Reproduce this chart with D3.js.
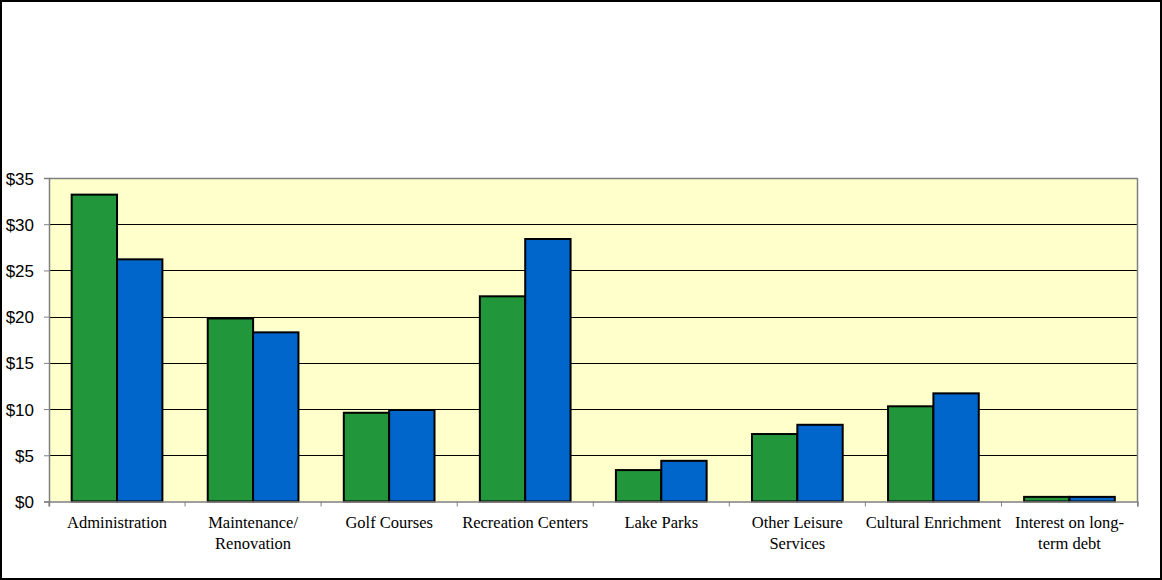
<!DOCTYPE html>
<html><head><meta charset="utf-8">
<script src="https://cdn.jsdelivr.net/npm/d3@7"></script>
<style>html,body{margin:0;padding:0;background:#fff;}svg{display:block;}</style>
</head><body>
<svg id="chart" width="1162" height="580"></svg>
<script>
const categories = ["Administration","Maintenance/ Renovation","Golf Courses","Recreation Centers","Lake Parks","Other Leisure Services","Cultural Enrichment","Interest on long-term debt"];
const categoryLines = [["Administration"],["Maintenance/","Renovation"],["Golf Courses"],["Recreation Centers"],["Lake Parks"],["Other Leisure","Services"],["Cultural Enrichment"],["Interest on long-","term debt"]];
const seriesA = [33.2,19.8,9.6,22.2,3.4,7.3,10.3,0.5];
const seriesB = [26.2,18.3,9.9,28.4,4.4,8.3,11.7,0.5];
const yTicks = [0,5,10,15,20,25,30,35];
const seriesColors = ["#21963A","#0066CC"];

const svg = d3.select("#chart");
const W=1162,H=580;
const m={left:49,right:1162-1137.5,top:178,bottom:580-501.5};
const x = d3.scaleBand().domain(categories).range([m.left, W-m.right]).paddingInner(0).paddingOuter(0);
const x1 = d3.scaleBand().domain([0,1]).range([0,x.bandwidth()]).paddingInner(0).paddingOuter(0.5);
const y = d3.scaleLinear().domain([0,35]).range([H-m.bottom, m.top]);

// outer border
svg.append("rect").attr("x",1).attr("y",1).attr("width",W-2).attr("height",H-2).attr("fill","#fff").attr("stroke","#000").attr("stroke-width",2);

// plot bg
svg.append("rect").attr("x",m.left).attr("y",m.top).attr("width",W-m.right-m.left).attr("height",y(0)-m.top).attr("fill","#FFFFCC");

// gridlines
svg.append("g").selectAll("line").data(yTicks.filter(d=>d>0&&d<35)).join("line")
  .attr("x1",m.left).attr("x2",W-m.right).attr("y1",d=>Math.round(y(d))+0.5).attr("y2",d=>Math.round(y(d))+0.5)
  .attr("stroke","#000").attr("stroke-width",1);

// plot border top/right
svg.append("line").attr("x1",m.left).attr("x2",W-m.right).attr("y1",Math.round(y(35))+0.5).attr("y2",Math.round(y(35))+0.5).attr("stroke","#808080").attr("stroke-width",1.5);
svg.append("line").attr("x1",W-m.right).attr("x2",W-m.right).attr("y1",y(35)).attr("y2",y(0)).attr("stroke","#808080").attr("stroke-width",1.5);

// bars
const groups = svg.append("g").selectAll("g").data(categories).join("g").attr("transform",d=>`translate(${x(d)},0)`);
groups.each(function(c,i){
  const vals=[seriesA[i],seriesB[i]];
  d3.select(this).selectAll("rect").data(vals).join("rect")
    .attr("x",(v,j)=>x1(j)).attr("width",x1.bandwidth())
    .attr("y",v=>y(v)).attr("height",v=>y(0)-y(v))
    .attr("fill",(v,j)=>seriesColors[j]).attr("stroke","#000").attr("stroke-width",2);
});

// y axis
const yAxis = d3.axisLeft(y).tickValues(yTicks).tickSize(5).tickFormat(d=>"$"+d);
const gy = svg.append("g").attr("transform",`translate(${m.left},0)`).call(yAxis);
gy.select(".domain").attr("stroke","#808080").attr("stroke-width",1.5);
gy.selectAll(".tick line").attr("stroke","#808080");
gy.selectAll("text").attr("font-family","Liberation Sans, Arial, sans-serif").attr("font-size",17).attr("fill","#000").attr("x",-15).attr("dy","0.36em");

// x axis
const xAxis = d3.axisBottom(x).tickSize(5).tickFormat("");
const gx = svg.append("g").attr("transform",`translate(0,${y(0)})`).call(xAxis);
gx.select(".domain").attr("stroke","#808080").attr("stroke-width",1.5);
gx.selectAll(".tick").remove();
const bounds = categories.map(c=>x(c)).concat([W-m.right]);
gx.selectAll("line.tk").data(bounds).join("line").attr("class","tk")
  .attr("x1",d=>d).attr("x2",d=>d).attr("y1",0).attr("y2",5).attr("stroke","#808080").attr("stroke-width",1);

svg.append("g").selectAll("text").data(categories).join("text")
  .attr("x",d=>x(d)+x.bandwidth()/2).attr("y",528)
  .attr("text-anchor","middle").attr("font-family","Liberation Serif, Times New Roman, serif").attr("font-size",16.5).attr("fill","#000")
  .each(function(d,i){
    const t=d3.select(this);
    categoryLines[i].forEach((ln,k)=>{
      t.append("tspan").attr("x",x(d)+x.bandwidth()/2).attr("dy",k===0?0:21).text(ln);
    });
  });
</script>
</body></html>
